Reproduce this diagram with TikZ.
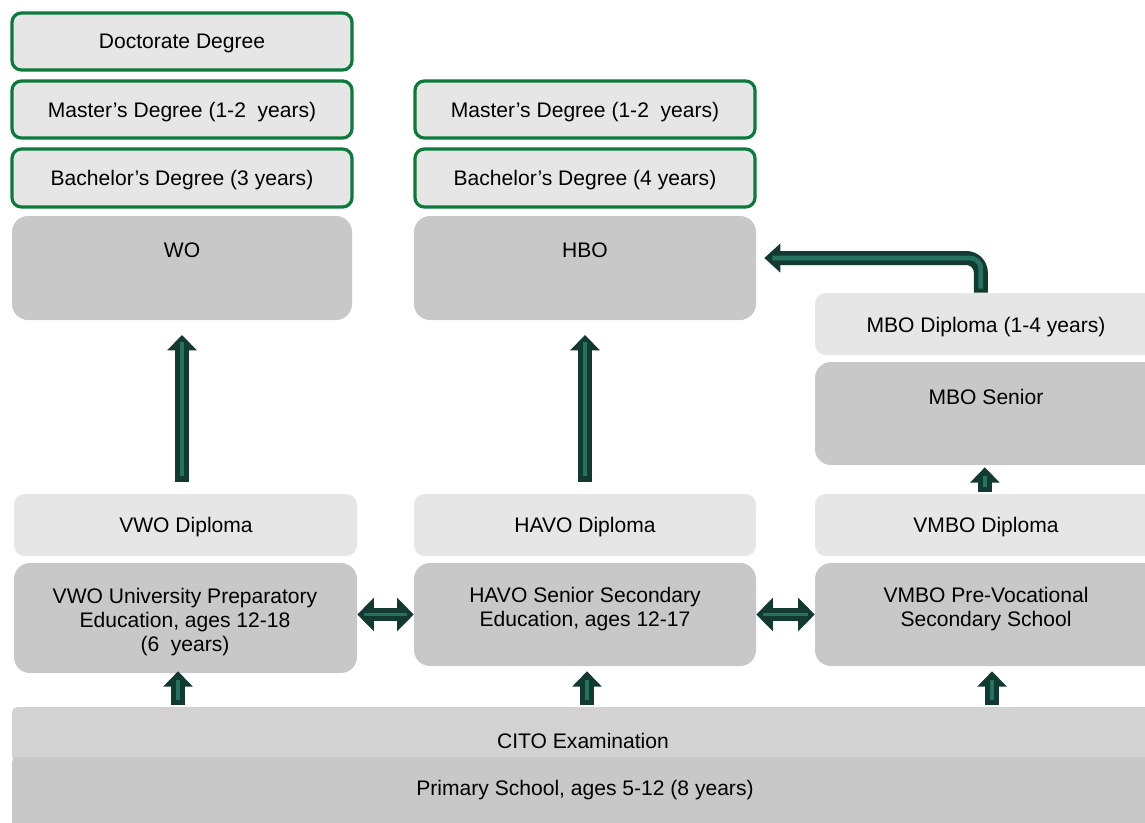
\documentclass[tikz,border=0pt]{standalone}
\usepackage{fontspec}
\setmainfont{Liberation Sans}
\usetikzlibrary{fit,arrows.meta}
\definecolor{lightbox}{HTML}{E6E6E6}
\definecolor{graybox}{HTML}{C8C8C8}
\definecolor{citobox}{HTML}{D2D2D2}
\definecolor{degreeborder}{HTML}{0B7A3B}
\definecolor{adark}{HTML}{133A30}
\definecolor{agreen}{HTML}{267260}
\begin{document}
\begin{tikzpicture}[x=0.75pt,y=-0.75pt,
  font=\fontsize{15.8}{18}\selectfont,
  degree/.style={fill=lightbox, draw=degreeborder, line width=2.4pt, rounded corners=7pt, inner sep=0pt},
  diploma/.style={fill=lightbox, rounded corners=8pt, inner sep=0pt},
  school/.style={fill=graybox, rounded corners=12pt, inner sep=0pt},
  cito/.style={fill=citobox, rounded corners=4pt, inner sep=0pt},
  primary/.style={fill=graybox, rounded corners=4pt, inner sep=0pt},
  lbl/.style={align=center, inner sep=0pt},
  ashaft/.style={draw=adark, line width=10pt, -{Triangle[width=21.5pt,length=11.5pt]}},
  ashaftbent/.style={draw=adark, line width=10.5pt, rounded corners=11pt, -{Triangle[width=21pt,length=12pt]}},
  ashaftdouble/.style={draw=adark, line width=10pt, {Triangle[width=24.5pt,length=12.5pt]}-{Triangle[width=24.5pt,length=12.5pt]}},
  astripe/.style={draw=agreen, line width=2.8pt},
  astripebent/.style={draw=agreen, line width=3.6pt, rounded corners=8pt}]
\useasboundingbox (0,0) rectangle (1145,822);

% ---------- boxes ----------
\node[degree, fit={(12,13)(352,70)}] (doc) {};
\node[degree, fit={(12,81)(352,138)}] (womaster) {};
\node[degree, fit={(12,149)(352,207)}] (wobachelor) {};
\node[school, fit={(12,216)(352,320)}] (wo) {};

\node[degree, fit={(415,81)(755,138)}] (hbomaster) {};
\node[degree, fit={(415,149)(755,207)}] (hbobachelor) {};
\node[school, fit={(414,216)(756,320)}] (hbo) {};

\node[diploma, fit={(815,293)(1160,355)}] (mbodip) {};
\node[school, fit={(815,362)(1160,465)}] (mbo) {};

\node[diploma, fit={(14,494)(357,556)}] (vwodip) {};
\node[diploma, fit={(414,494)(756,556)}] (havodip) {};
\node[diploma, fit={(815,494)(1160,556)}] (vmbodip) {};

\node[school, fit={(14,563)(357,673)}] (vwo) {};
\node[school, fit={(414,563)(756,666)}] (havo) {};
\node[school, fit={(815,563)(1160,666)}] (vmbo) {};

\node[cito, fit={(12,707)(1160,762)}] (citoex) {};
\node[primary, fit={(12,757)(1160,845)}] (prim) {};

% ---------- labels ----------
\node[lbl] at (182,43.5) {Doctorate Degree};
\node[lbl] at (182,112.5) {Master’s Degree (1-2~ years)};
\node[lbl] at (182,180.5) {Bachelor’s Degree (3 years)};
\node[lbl] at (182,250.5) {WO};
\node[lbl] at (585,112.5) {Master’s Degree (1-2~ years)};
\node[lbl] at (585,180.5) {Bachelor’s Degree (4 years)};
\node[lbl] at (585,250.5) {HBO};
\node[lbl] at (986,327.5) {MBO Diploma (1-4 years)};
\node[lbl] at (986,396.5) {MBO Senior};
\node[lbl] at (186,527.5) {VWO Diploma};
\node[lbl] at (585,527.5) {HAVO Diploma};
\node[lbl] at (986,527.5) {VMBO Diploma};
\node[lbl] at (185,622) {VWO University Preparatory\\Education, ages 12-18\\ (6~ years)};
\node[lbl] at (585,609.5) {HAVO Senior Secondary\\Education, ages 12-17};
\node[lbl] at (986,609.5) {VMBO Pre-Vocational\\Secondary School};
\node[lbl] at (583,740.5) {CITO Examination};
\node[lbl] at (585,790.5) {Primary School, ages 5-12 (8 years)};

% ---------- connectors ----------
% long vertical arrows
\draw[ashaft, shorten <=9pt, shorten >=11pt] (vwodip.north -| wo.south) -- (wo.south);
\draw[astripe, shorten <=13.5pt, shorten >=16.5pt] (vwodip.north -| wo.south) -- (wo.south);
\draw[ashaft, shorten <=9pt, shorten >=11pt] (havodip.north -| hbo.south) -- (hbo.south);
\draw[astripe, shorten <=13.5pt, shorten >=16.5pt] (havodip.north -| hbo.south) -- (hbo.south);

% VMBO diploma -> MBO senior
\draw[ashaft, shorten <=1.5pt, shorten >=1.5pt] ([xshift=-2pt]vmbodip.north) -- ([xshift=-2pt]mbo.south);
\draw[astripe, shorten <=5pt, shorten >=8pt] ([xshift=-2pt]vmbodip.north) -- ([xshift=-2pt]mbo.south);

% MBO diploma -> HBO (bent)
\draw[ashaftbent, shorten >=6pt] ([xshift=-5pt]mbodip.north) |- ([yshift=7.5pt]hbo.east);
\draw[astripebent, shorten <=3pt, shorten >=12pt] ([xshift=-5pt]mbodip.north) |- ([yshift=7.5pt]hbo.east);

% CITO -> schools
\draw[ashaft, shorten <=1.5pt, shorten >=-1.5pt] ([xshift=-5.6pt]citoex.north -| vwo.south) -- ([xshift=-5.6pt]vwo.south);
\draw[astripe, shorten <=5pt, shorten >=5pt] ([xshift=-5.6pt]citoex.north -| vwo.south) -- ([xshift=-5.6pt]vwo.south);
\draw[ashaft, shorten <=1.5pt, shorten >=3.75pt] ([xshift=1.5pt]citoex.north -| havo.south) -- ([xshift=1.5pt]havo.south);
\draw[astripe, shorten <=5pt, shorten >=10pt] ([xshift=1.5pt]citoex.north -| havo.south) -- ([xshift=1.5pt]havo.south);
\draw[ashaft, shorten <=1.5pt, shorten >=3.75pt] ([xshift=3.4pt]citoex.north -| vmbo.south) -- ([xshift=3.4pt]vmbo.south);
\draw[astripe, shorten <=5pt, shorten >=10pt] ([xshift=3.4pt]citoex.north -| vmbo.south) -- ([xshift=3.4pt]vmbo.south);

% double arrows
\draw[ashaftdouble] (vwo.east |- havo.west) -- (havo.west);
\draw[astripe, shorten <=5pt, shorten >=5pt] (vwo.east |- havo.west) -- (havo.west);
\draw[ashaftdouble] (havo.east) -- (vmbo.west);
\draw[astripe, shorten <=5pt, shorten >=5pt] (havo.east) -- (vmbo.west);
\end{tikzpicture}
\end{document}
